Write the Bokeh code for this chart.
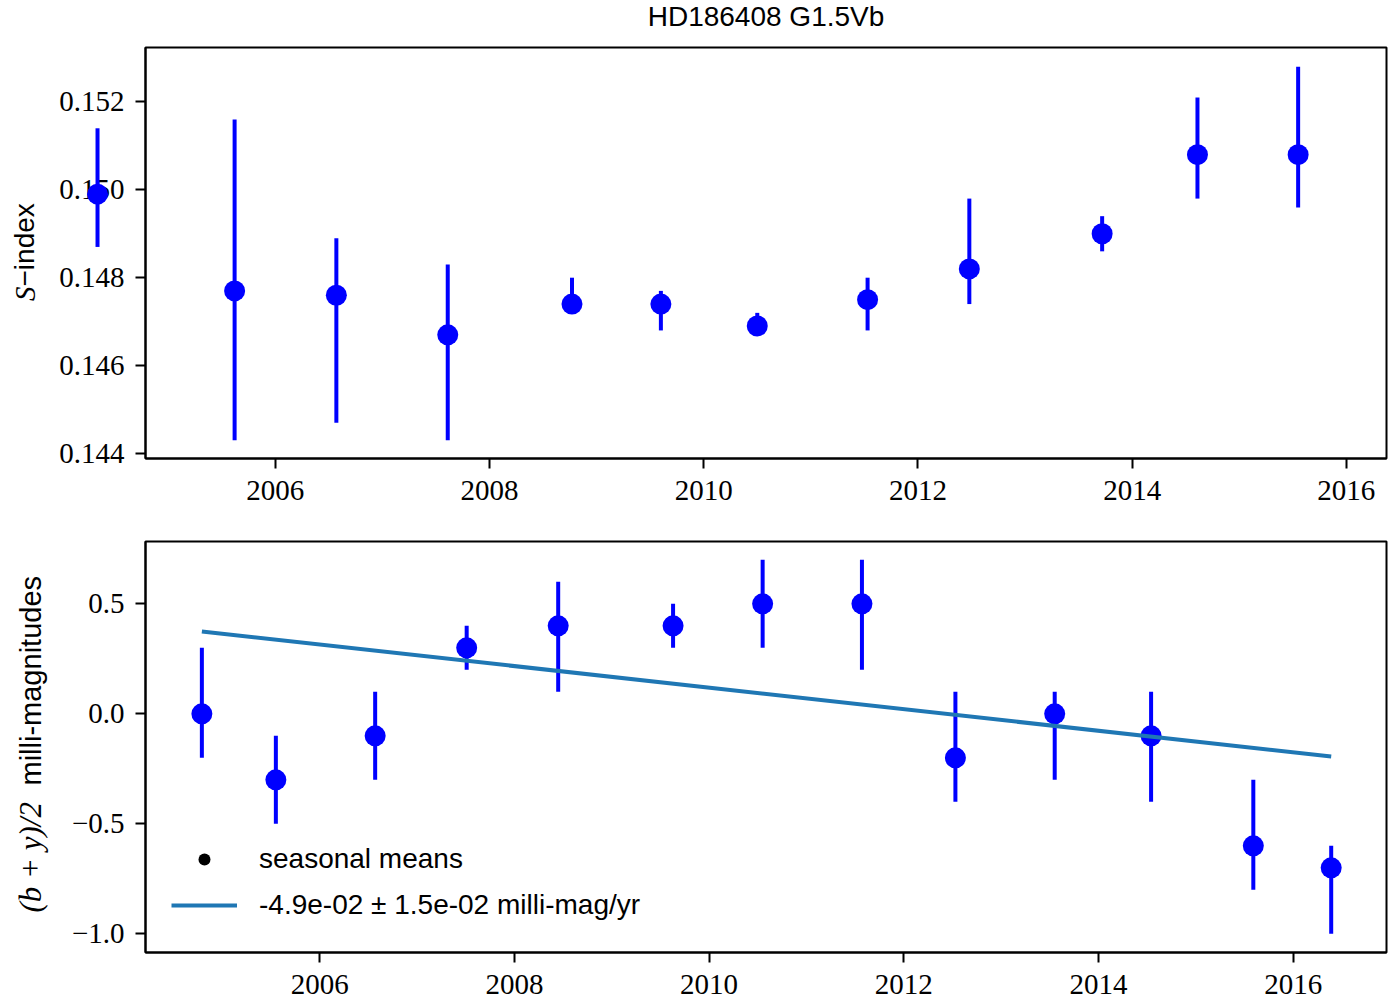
import math

from bokeh.core.properties import value
from bokeh.embed import file_html
from bokeh.layouts import column
from bokeh.models import (ColumnDataSource, FixedTicker, Legend, LegendItem,
                          Range1d)
from bokeh.plotting import figure
from bokeh.resources import INLINE

title_text = "HD186408 G1.5Vb"

# Ca II H&K activity: seasonal S-index means with their ranges
s_year = [2004.34, 2005.62, 2006.57, 2007.61, 2008.77, 2009.60,
          2010.50, 2011.53, 2012.48, 2013.72, 2014.61, 2015.55]
s_value = [0.1499, 0.1477, 0.1476, 0.1467, 0.1474, 0.1474,
           0.1469, 0.1475, 0.1482, 0.1490, 0.1508, 0.1508]
s_low = [0.1487, 0.1443, 0.1447, 0.1443, 0.1472, 0.1468,
         0.1467, 0.1468, 0.1474, 0.1486, 0.1498, 0.1496]
s_high = [0.1514, 0.1516, 0.1489, 0.1483, 0.1480, 0.1477,
          0.1472, 0.1480, 0.1498, 0.1494, 0.1521, 0.1528]

# Stromgren (b+y)/2 photometry: seasonal means in milli-magnitudes
b_year = [2004.79, 2005.55, 2006.57, 2007.51, 2008.45, 2009.63, 2010.55,
          2011.57, 2012.53, 2013.55, 2014.54, 2015.59, 2016.39]
b_value = [0.0, -0.3, -0.1, 0.3, 0.4, 0.4, 0.5,
           0.5, -0.2, 0.0, -0.1, -0.6, -0.7]
b_low = [-0.2, -0.5, -0.3, 0.2, 0.1, 0.3, 0.3,
         0.2, -0.4, -0.3, -0.4, -0.8, -1.0]
b_high = [0.3, -0.1, 0.1, 0.4, 0.6, 0.5, 0.7,
          0.7, 0.1, 0.1, 0.1, -0.3, -0.6]

# linear trend fitted to the photometry
trend_slope = -0.049
trend_slope_err = 0.015
trend_mid_value = 0.09

year_ticks = [2006, 2008, 2010, 2012, 2014, 2016]
year_tick_labels = ["2006", "2008", "2010", "2012", "2014", "2016"]
s_ticks = [0.144, 0.146, 0.148, 0.150, 0.152]
s_tick_labels = ["0.144", "0.146", "0.148", "0.150", "0.152"]
b_ticks = [-1.0, -0.5, 0.0, 0.5]
b_tick_labels = ["\u22121.0", "\u22120.5", "0.0", "0.5"]

BLUE = "#0000ff"
TREND = "#1f77b4"
SERIF = "Liberation Serif"
SANS = "Liberation Sans"
FRAME_W, FRAME_H = 1241, 411


def style_axes(p, yticks, ylabels):
    p.xgrid.visible = False
    p.ygrid.visible = False
    p.outline_line_color = "black"
    p.outline_line_width = 2
    p.outline_line_alpha = 1.0
    for ax in (p.xaxis[0], p.yaxis[0]):
        ax.axis_line_color = "black"
        ax.axis_line_width = 2
        ax.major_tick_line_color = "black"
        ax.major_tick_line_width = 2
        ax.major_tick_out = 10
        ax.major_tick_in = 0
        ax.minor_tick_line_color = None
        ax.major_label_text_font = SERIF
        ax.major_label_text_font_size = "29px"
        ax.major_label_text_color = "black"
    p.xaxis.ticker = FixedTicker(ticks=year_ticks)
    p.xaxis.major_label_overrides = dict(zip(year_ticks, year_tick_labels))
    p.xaxis.major_label_standoff = 12
    p.yaxis.ticker = FixedTicker(ticks=yticks)
    p.yaxis.major_label_overrides = dict(zip(yticks, ylabels))
    p.yaxis.major_label_standoff = 11


def frame_text(p, text, dx, dy, font, style, size, align, angle=0.0):
    """Text placed dx, dy pixels from the frame's lower-left corner."""
    xr, yr = p.x_range, p.y_range
    x = xr.start + dx / FRAME_W * (xr.end - xr.start)
    y = yr.start + dy / FRAME_H * (yr.end - yr.start)
    p.text(x=[x], y=[y], text=[text], angle=angle,
           text_font=value(font), text_font_style=style,
           text_font_size=value(size), text_color="black",
           text_align=align, text_baseline="middle", level="overlay")


def figure_panel(x_range, y_range, top, bottom):
    return figure(frame_width=FRAME_W, frame_height=FRAME_H,
                  x_range=x_range, y_range=y_range,
                  min_border_left=145, min_border_right=4,
                  min_border_top=top, min_border_bottom=bottom,
                  output_backend="svg", toolbar_location=None,
                  background_fill_color="white", border_fill_color="white")


UP = math.pi / 2

# ---------- upper panel: S-index ----------
p1 = figure_panel(Range1d(2004.788, 2016.375), Range1d(0.143886, 0.153238), 47, 62)
style_axes(p1, s_ticks, s_tick_labels)

src1 = ColumnDataSource(dict(year=s_year, value=s_value, low=s_low, high=s_high))
p1.segment(x0="year", y0="low", x1="year", y1="high", source=src1,
           line_color=BLUE, line_width=4, level="overlay")
# round-capped zero-length strokes give the filled dots
p1.segment(x0="year", y0="value", x1="year", y1="value", source=src1,
           line_color=BLUE, line_width=21, line_cap="round", level="overlay")

frame_text(p1, title_text, FRAME_W / 2, FRAME_H + 31, SANS, "normal", "28px", "center")
frame_text(p1, "S", -121, 172, SERIF, "italic", "29px", "right", UP)
frame_text(p1, "\u2212index", -121, 172, SANS, "normal", "28px", "left", UP)

# ---------- lower panel: photometry ----------
p2 = figure_panel(Range1d(2004.211, 2016.958), Range1d(-1.085, 0.7832), 21, 50)
style_axes(p2, b_ticks, b_tick_labels)

src2 = ColumnDataSource(dict(year=b_year, value=b_value, low=b_low, high=b_high))
p2.segment(x0="year", y0="low", x1="year", y1="high", source=src2,
           line_color=BLUE, line_width=4)
p2.scatter("year", "value", source=src2, size=21, fill_color=BLUE,
           line_color=None)

trend_x = [b_year[0], b_year[-1]]
mid_year = sum(trend_x) / 2
trend_y = [trend_mid_value + trend_slope * (x - mid_year) for x in trend_x]
trend = p2.line(trend_x, trend_y, line_color=TREND, line_width=4)

# black key marker for the seasonal means (shown only in the legend)
means_key = p2.scatter("year", "value", source=src2, size=12,
                       fill_color="black", line_color=None, visible=False)

trend_label = f"{trend_slope:.1e} \u00b1 {trend_slope_err:.1e} milli-mag/yr"
legend = Legend(items=[LegendItem(label="seasonal means", renderers=[means_key]),
                       LegendItem(label=trend_label, renderers=[trend])],
                location=(26, 31), orientation="vertical",
                border_line_color=None, background_fill_alpha=0,
                inactive_fill_alpha=0,
                padding=0, margin=0, spacing=14,
                glyph_width=66, glyph_height=30, label_height=30,
                label_standoff=22, label_text_font=SANS,
                label_text_color="black",
                label_text_font_size="28px", label_text_baseline="middle")
p2.add_layout(legend)

frame_text(p2, "(b + y)/2", -115, 40, SERIF, "italic", "31px", "left", UP)
frame_text(p2, "milli-magnitudes", -115, 167, SANS, "normal", "29px", "left", UP)

layout = column(p1, p2)
open("out.html", "w").write(file_html(layout, INLINE))
